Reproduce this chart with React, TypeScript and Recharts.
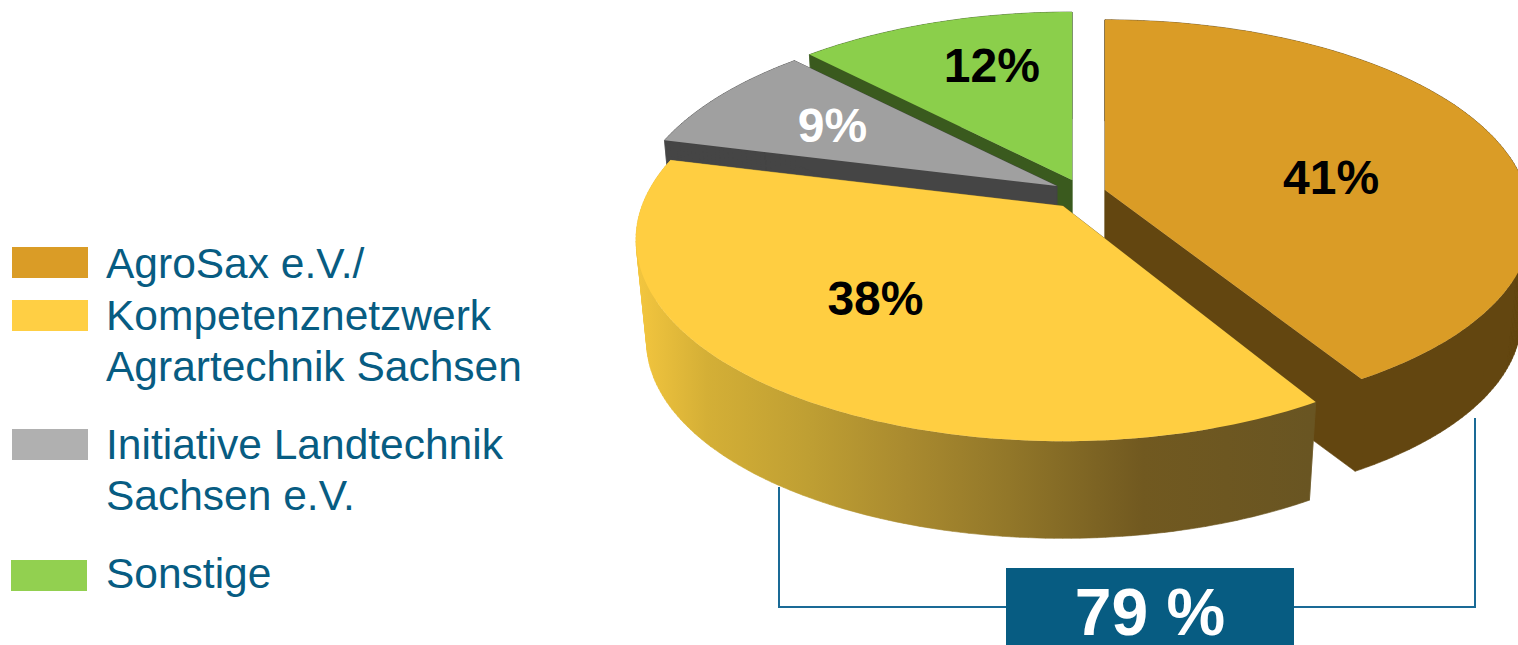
import React from 'react';
import { PieChart, Pie, Legend } from 'recharts';

// series, in the order they get painted (back slices before the front one)
const sliceNames = ['AgroSax', 'Sonstige', 'Initiative', 'Kompetenznetzwerk'];
const sliceValues = [41.4, 12.3, 8.8, 37.5];

const legendOrder = ['AgroSax', 'Kompetenznetzwerk', 'Initiative', 'Sonstige'];
const legendLines: Record<string, string[]> = {
  AgroSax: ['AgroSax e.V./'],
  Kompetenznetzwerk: ['Kompetenznetzwerk', 'Agrartechnik Sachsen'],
  Initiative: ['Initiative Landtechnik', 'Sachsen e.V.'],
  Sonstige: ['Sonstige'],
};
const totalLabel = '79 %';

const W = 1518;
const H = 645;
const BLUE = '#075c82';

// perspective of the tilted disc
const RX = 421;
const RY = 196;
const K = 0.1667;
const DEPTH = 103;
const BOTTOM_SCALE = 0.975;

const sliceStyle: Record<string, any> = {
  AgroSax: { tipX: 1105, tipY: 190, k: 0.14, ry: 194, skew: 0.055, depth: 97, top: '#da9c26', side: '#634610', labelDx: -12, labelDy: 17, label: '#000' },
  Sonstige: { tipX: 1072, tipY: 180, top: '#8bcf4b', side: '#3a5a1e', labelDx: 7, labelDy: -15, label: '#000' },
  Initiative: { tipX: 1057, tipY: 186, top: '#a0a0a0', side: '#454545', labelDx: -16, labelDy: -5, label: '#fff' },
  Kompetenznetzwerk: { tipX: 1063, tipY: 206, top: '#ffce41', side: 'url(#yellowSide)', labelDx: -24, labelDy: -11, label: '#000' },
};

const legendColors: Record<string, string> = {
  AgroSax: '#da9c26',
  Kompetenznetzwerk: '#ffcf44',
  Initiative: '#b0b0b0',
  Sonstige: '#92d050',
};
const legendLayout: Record<string, { x: number; y: number; baselines: number[] }> = {
  AgroSax: { x: 12, y: 247, baselines: [278] },
  Kompetenznetzwerk: { x: 12, y: 300, baselines: [330, 381] },
  Initiative: { x: 12, y: 429, baselines: [459, 510] },
  Sonstige: { x: 11, y: 560, baselines: [588] },
};

const data = sliceNames.map((name, i) => ({ name, value: sliceValues[i] }));

// angle in recharts degrees, r 0..1 along the disc -> screen offset from the slice tip
const project = (angle: number, r: number, st: any) => {
  const rad = (angle * Math.PI) / 180;
  const u = r * Math.cos(rad);
  const v = -r * Math.sin(rad);
  const w = 1 - (st.k ?? K) * v;
  const y = ((st.ry ?? RY) * v) / w;
  return { x: (RX * u) / w + Math.max(0, y) * (st.skew ?? 0), y };
};

const toPath = (pts: number[][]) => 'M' + pts.map((p) => p[0].toFixed(1) + ',' + p[1].toFixed(1)).join('L') + 'Z';

// same winding for every quad, otherwise overlapping ones punch holes in the fill
const quad = (pts: number[][]) => {
  let area = 0;
  pts.forEach((p, i) => {
    const q = pts[(i + 1) % pts.length];
    area += p[0] * q[1] - q[0] * p[1];
  });
  return toPath(area < 0 ? pts.slice().reverse() : pts);
};

const SliceShape = (props: any) => {
  const { startAngle, endAngle, name } = props;
  const st = sliceStyle[name];
  const a0 = Math.min(startAngle, endAngle);
  const a1 = Math.max(startAngle, endAngle);
  const depth = st.depth ?? DEPTH;

  const rim: { x: number; y: number }[] = [];
  for (let a = a0; a < a1; a += 1) rim.push(project(a, 1, st));
  rim.push(project(a1, 1, st));

  const top = (p: { x: number; y: number }) => [st.tipX + p.x, st.tipY + p.y];
  const low = (p: { x: number; y: number }) => [st.tipX + p.x * BOTTOM_SCALE, st.tipY + p.y * BOTTOM_SCALE + depth];

  const tipTop = top({ x: 0, y: 0 });
  const tipLow = low({ x: 0, y: 0 });
  const first = rim[0];
  const last = rim[rim.length - 1];

  // walls go in one path as quads, so the outline follows the tangent of the extrusion
  const walls = [quad([tipTop, top(first), low(first), tipLow]), quad([tipTop, top(last), low(last), tipLow])];
  for (let i = 0; i < rim.length - 1; i += 1) {
    walls.push(quad([top(rim[i]), top(rim[i + 1]), low(rim[i + 1]), low(rim[i])]));
  }

  return (
    <g>
      <path d={walls.join('')} fill={st.side} stroke={st.side} strokeWidth={0.6} />
      <path d={toPath([tipTop, ...rim.map(top)])} fill={st.top} />
    </g>
  );
};

const renderPercent = (props: any) => {
  const { midAngle, name, value } = props;
  const st = sliceStyle[name];
  const p = project(midAngle, 0.6, st);
  return (
    <text
      x={st.tipX + p.x + st.labelDx}
      y={st.tipY + p.y + st.labelDy + 17}
      textAnchor="middle"
      fontFamily="'Liberation Sans', Arial, sans-serif"
      fontWeight="bold"
      fontSize={48}
      fill={st.label}
    >
      {Math.round(value)}%
    </text>
  );
};

const LegendContent = () => (
  <svg width={540} height={H} style={{ display: 'block' }}>
    {legendOrder.map((name) => {
      const l = legendLayout[name];
      return (
        <g key={name}>
          <rect x={l.x} y={l.y} width={76} height={31} fill={legendColors[name]} />
          {legendLines[name].map((line, i) => (
            <text
              key={line}
              x={106}
              y={l.baselines[i]}
              fontFamily="'Liberation Sans', Arial, sans-serif"
              fontSize={42.5}
              fill={BLUE}
            >
              {line}
            </text>
          ))}
        </g>
      );
    })}
  </svg>
);

export default function App() {
  const firstAngle = 90 - sliceValues[0] * 3.6;
  return (
    <div style={{ position: 'absolute', left: 0, top: 0, width: W, height: H, overflow: 'hidden', background: '#fff' }}>
      <PieChart width={W} height={H} margin={{ top: 0, right: 0, bottom: 0, left: 0 }}>
        <defs>
          <linearGradient id="yellowSide" gradientUnits="userSpaceOnUse" x1="640" y1="0" x2="1310" y2="0">
            <stop offset="0" stopColor="#f2c53e" />
            <stop offset="0.1" stopColor="#d4af36" />
            <stop offset="0.25" stopColor="#bf9f33" />
            <stop offset="0.4" stopColor="#a98a2f" />
            <stop offset="0.55" stopColor="#927729" />
            <stop offset="0.75" stopColor="#715920" />
            <stop offset="1" stopColor="#695522" />
          </linearGradient>
        </defs>
        <path d="M779,487V607H1006M1294,607H1475V418" fill="none" stroke="#1a6a96" strokeWidth={2} />
        <Pie
          data={data}
          dataKey="value"
          nameKey="name"
          cx={1070}
          cy={200}
          outerRadius={200}
          startAngle={firstAngle}
          endAngle={firstAngle + 360}
          stroke="none"
          shape={SliceShape}
          label={renderPercent}
          labelLine={false}
          isAnimationActive={false}
        />
        <rect x={1006} y={568} width={288} height={77} fill={BLUE} />
        <text
          x={1150}
          y={635}
          textAnchor="middle"
          fontFamily="'Liberation Sans', Arial, sans-serif"
          fontWeight="bold"
          fontSize={66}
          fill="#fff"
        >
          {totalLabel}
        </text>
        <Legend content={LegendContent} wrapperStyle={{ left: 0, top: 0, width: 540, height: H }} />
      </PieChart>
    </div>
  );
}
